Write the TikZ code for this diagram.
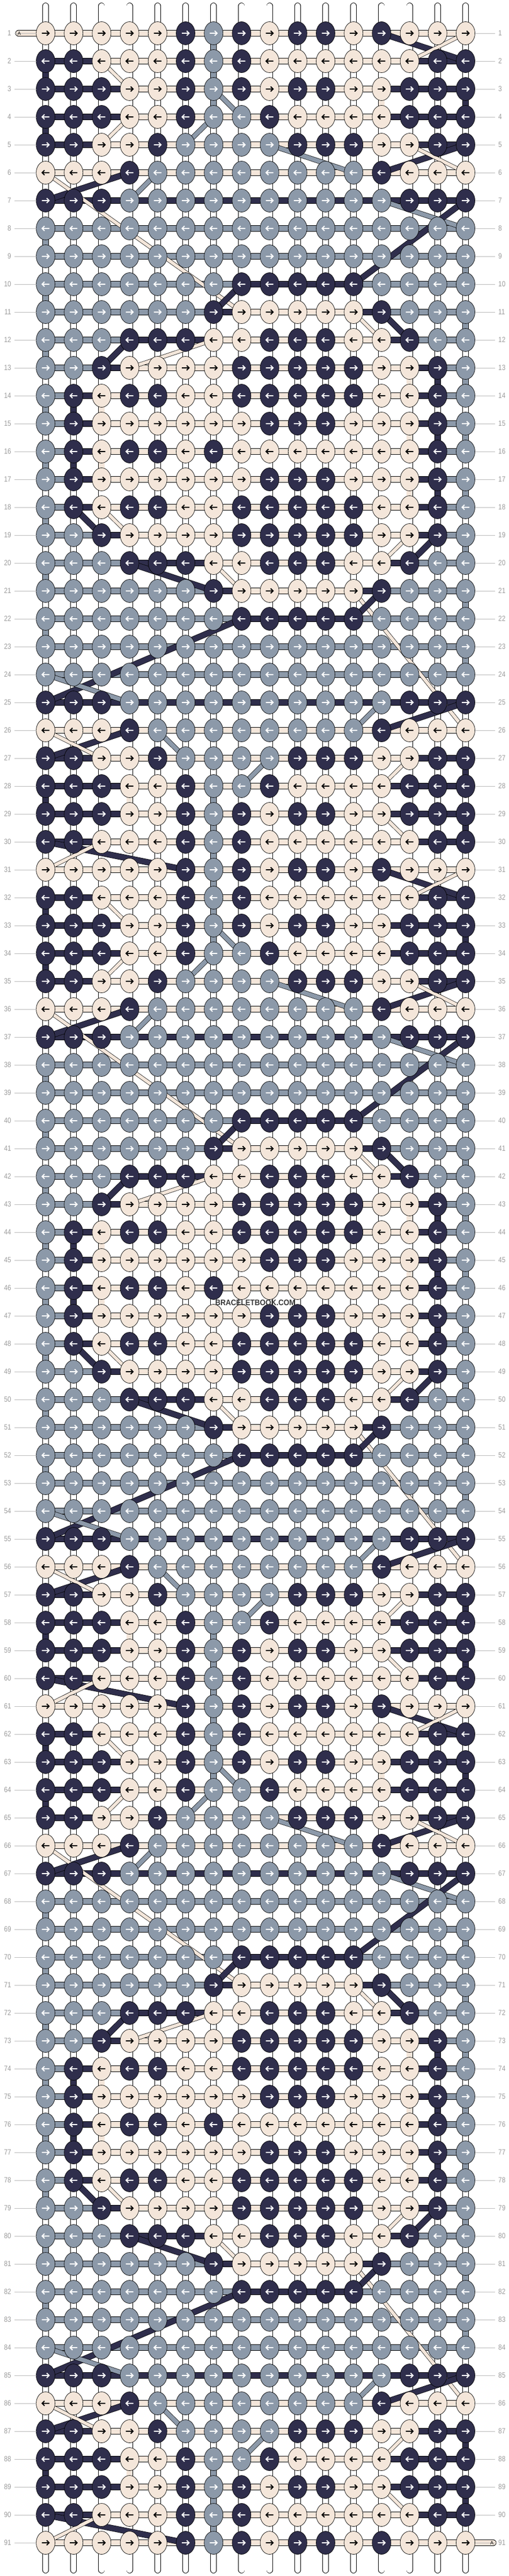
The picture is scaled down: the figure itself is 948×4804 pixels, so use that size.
\documentclass[tikz,border=0pt]{standalone}
\usepackage{fontspec}
\setmainfont{Liberation Sans}
\newfontfamily\rowfont[FakeStretch=0.85]{Liberation Sans}
\newfontfamily\markfont[FakeStretch=0.9]{Liberation Sans}
\usetikzlibrary{arrows.meta}

\definecolor{kc}{HTML}{F4E6DA}
\definecolor{kd}{HTML}{2F2E4C}
\definecolor{kg}{HTML}{8C99A9}
\colorlet{ac}{black}
\colorlet{ad}{white}
\colorlet{ag}{white}
\definecolor{lblgray}{HTML}{9C9C9C}
\definecolor{rulegray}{HTML}{B9B9B9}

\newcommand\knotrow[4]{%
	\expandafter\def\csname klc#1\endcsname{#2}%
	\expandafter\def\csname kld#1\endcsname{#3}%
	\expandafter\def\csname klg#1\endcsname{#4}}
\newcommand\barrow[2]{\expandafter\def\csname br#1\endcsname{#2}}

\knotrow{1}{1,2,3,4,5,9,12,14,15,16}{6,8,10,11,13}{7}
\knotrow{2}{3,4,5,9,10,11,12,13,14}{1,2,6,8,15,16}{7}
\knotrow{3}{4,5,9,12,13}{1,2,3,6,8,10,11,14,15,16}{7}
\knotrow{4}{4,5,10,11,12,13}{1,2,3,6,9,14,15,16}{7,8}
\knotrow{5}{3,4,13,14}{1,2,5,10,11,12,15,16}{6,7,8,9}
\knotrow{6}{1,2,3,14,15,16}{4,13}{5,6,7,8,9,10,11,12}
\knotrow{7}{}{1,2,3,14,15,16}{4,5,6,7,8,9,10,11,12,13}
\knotrow{8}{}{}{1,2,3,4,5,6,7,8,9,10,11,12,13,14,15,16}
\knotrow{9}{}{}{1,2,3,4,5,6,7,8,9,10,11,12,13,14,15,16}
\knotrow{10}{}{8,9,10,11,12}{1,2,3,4,5,6,7,13,14,15,16}
\knotrow{11}{8,9,10,11,12}{7,13}{1,2,3,4,5,6,14,15,16}
\knotrow{12}{7,8,12,13}{4,5,6,9,10,11,14}{1,2,3,15,16}
\knotrow{13}{4,5,6,7,13,14}{3,8,9,10,11,12,15}{1,2,16}
\knotrow{14}{3,6,7,13,14}{2,4,5,8,9,10,11,12,15}{1,16}
\knotrow{15}{3,4,5,6,7,8,12,13,14}{2,9,10,11,15}{1,16}
\knotrow{16}{3,6,8,9,10,11,12,13,14}{2,4,5,7,15}{1,16}

\barrow{1}{1/16/c}
\barrow{2}{1/3/d,3/14/c,14/16/d}
\barrow{3}{1/4/d,4/13/c,13/16/d}
\barrow{4}{1/4/d,4/13/c,13/16/d}
\barrow{5}{1/3/d,3/14/c,14/16/d}
\barrow{6}{1/16/c}
\barrow{7}{1/16/d}
\barrow{8}{1/16/g}
\barrow{9}{1/16/g}
\barrow{10}{1/8/g,8/12/d,12/16/g}
\barrow{11}{1/7/g,7/8/d,8/12/c,12/13/d,13/16/g}
\barrow{12}{1/4/g,4/7/d,7/13/c,13/14/d,14/16/g}
\barrow{13}{1/3/g,3/4/d,4/14/c,14/15/d,15/16/g}
\barrow{14}{1/2/g,2/3/d,3/14/c,14/15/d,15/16/g}
\barrow{15}{1/2/g,2/3/d,3/14/c,14/15/d,15/16/g}
\barrow{16}{1/2/g,2/3/d,3/14/c,14/15/d,15/16/g}

\begin{document}
\begin{tikzpicture}[x=1pt,y=-1pt,
	strand/.style={draw=black,line width=0.7pt,double distance=10.5pt},
	knotline/.style={draw=black,line width=0.7pt},
	arrline/.style={line width=2pt,line join=miter},
	wc/.style={double distance=6pt},
	wd/.style={double distance=10pt},
	wg/.style={double distance=8pt},
	lbl/.style={text=lblgray,font=\rowfont\fontsize{14}{14}\selectfont,inner sep=0pt},
	rowtick/.style={draw=rulegray,line width=0.8pt},
	atext/.style={font=\fontsize{9}{9}\selectfont,text=black,inner sep=0pt},
	wmark/.style={font=\markfont\bfseries\fontsize{15}{15}\selectfont,text=black!78,inner sep=0pt}]
	\fill[white] (0,0) rectangle (948,4804);
	\useasboundingbox (0,0) rectangle (948,4804);
	\foreach \cc in {1,...,16}
		\draw[strand,double=white,line cap=round] ({85+(\cc-1)*52.2},11) -- ({85+(\cc-1)*52.2},4793);
	\foreach \pd in {0,30,60}{
		\foreach \gk/\cc/\vc in {1/7/g,2/1/d,2/7/g,3/7/g,3/13/c,3/16/d,4/1/d,8/1/g,9/16/g,10/1/g,11/16/g,12/1/g,
			13/14/c,13/15/d,13/16/g,14/1/g,14/2/d,14/3/c,15/14/c,15/15/d,15/16/g,16/1/g,16/2/d,16/3/c,
			17/14/c,17/15/d,17/16/g,18/1/g,19/16/g,20/1/g,21/16/g,22/1/g,23/16/g,27/16/d,28/1/d,28/4/c,
			28/7/g,29/7/g,29/16/d,30/7/g}{
			\pgfmathtruncatemacro\ra{\pd+\gk}
			\draw[strand,double=k\vc] ({85+(\cc-1)*52.2},{62+(\ra-1)*52}) -- ({85+(\cc-1)*52.2},{62+\ra*52});
		}
	}
	\coordinate (a-s) at (34.5,62);
	\coordinate (a-e) at (919.5,4742);
	\draw[strand,double=kc,line cap=round] (a-s) -- (85,62);
	\draw[strand,double=kc,line cap=round] (868,4742) -- (a-e);
	\foreach \rw in {1,...,91}{
		\pgfmathtruncatemacro\kk{mod(\rw-1,30)+1}
		\pgfmathtruncatemacro\tp{\kk>16 ? 32-\kk : \kk}
		\pgfmathsetmacro\yy{62+(\rw-1)*52}
		\edef\runs{\csname br\tp\endcsname}
		\foreach \ca/\cb/\bc in \runs
			\draw[strand,double=k\bc] ({85+(\ca-1)*52.2},\yy) -- ({85+(\cb-1)*52.2},\yy);
	}
	\foreach \pd in {0,30,60}{
		\foreach \gk/\ca/\dr/\cb/\dc in {1/13/1/16/d,1/16/1/14/c,2/3/1/4/c,3/7/1/8/g,4/4/1/3/c,4/7/1/6/g,
			5/9/1/12/g,5/16/1/13/d,5/14/1/16/c,6/4/1/1/d,6/1/5/8/c,6/5/1/4/g,7/13/1/16/g,7/16/3/12/d,
			10/8/1/7/d,11/12/1/13/c,11/13/1/14/d,12/4/1/3/d,12/7/1/4/c,18/2/1/3/d,18/3/1/4/c,
			19/14/1/13/c,19/15/1/14/d,20/4/1/7/d,20/7/1/8/c,21/12/5/16/c,21/13/1/12/d,22/8/3/1/d,
			24/1/1/4/g,25/13/1/12/g,25/16/1/13/d,26/4/1/1/d,26/1/1/3/c,26/5/1/6/g,27/9/1/8/g,
			27/14/1/13/c,29/13/1/14/c,30/1/1/6/d,30/3/1/1/c}{
			\pgfmathtruncatemacro\ra{\pd+\gk}
			\pgfmathtruncatemacro\rb{\ra+\dr}
			\draw[strand,w\dc,double=k\dc] ({85+(\ca-1)*52.2},{62+(\ra-1)*52}) -- ({85+(\cb-1)*52.2},{62+(\rb-1)*52});
		}
	}
	\foreach \rw in {1,...,91}{
		\pgfmathtruncatemacro\kk{mod(\rw-1,30)+1}
		\pgfmathtruncatemacro\tp{\kk>16 ? 32-\kk : \kk}
		\pgfmathtruncatemacro\sd{mod(\rw,2)==1 ? 1 : -1}
		\pgfmathsetmacro\yy{62+(\rw-1)*52}
		\foreach \kc in {c,d,g}{
			\edef\cols{\csname kl\kc\tp\endcsname}
			\ifx\cols\empty\else
				\filldraw[knotline,fill=k\kc] \foreach \cc in \cols {({85+(\cc-1)*52.2},\yy) ellipse [x radius=17.5,y radius=21.5]};
				\draw[arrline,draw=a\kc] \foreach \cc in \cols {
					({85+(\cc-1)*52.2-7*\sd},\yy) -- ({85+(\cc-1)*52.2+6*\sd},\yy)
					({85+(\cc-1)*52.2+2*\sd},\yy-4.5) -- ({85+(\cc-1)*52.2+6.5*\sd},\yy) -- ({85+(\cc-1)*52.2+2*\sd},\yy+4.5)};
			\fi
		}
	}
	\foreach \rw in {1,...,91}{
		\node[lbl,anchor=east] (ll-\rw) at (21,{62+(\rw-1)*52}) {\rw};
		\node[lbl,anchor=west] (lr-\rw) at (929,{62+(\rw-1)*52}) {\rw};
		\draw[rowtick] ([xshift=6pt]ll-\rw.east) -- ++(40.5,0);
		\draw[rowtick] ([xshift=-6pt]lr-\rw.west) -- ++(-36.5,0);
	}
	\node[atext] (a-1) at (36,62) {A};
	\node[atext] (a-91) at (917,4742) {A};
	\node[wmark] (wm) at (476,2429) {BRACELETBOOK.COM};
\end{tikzpicture}
\end{document}
